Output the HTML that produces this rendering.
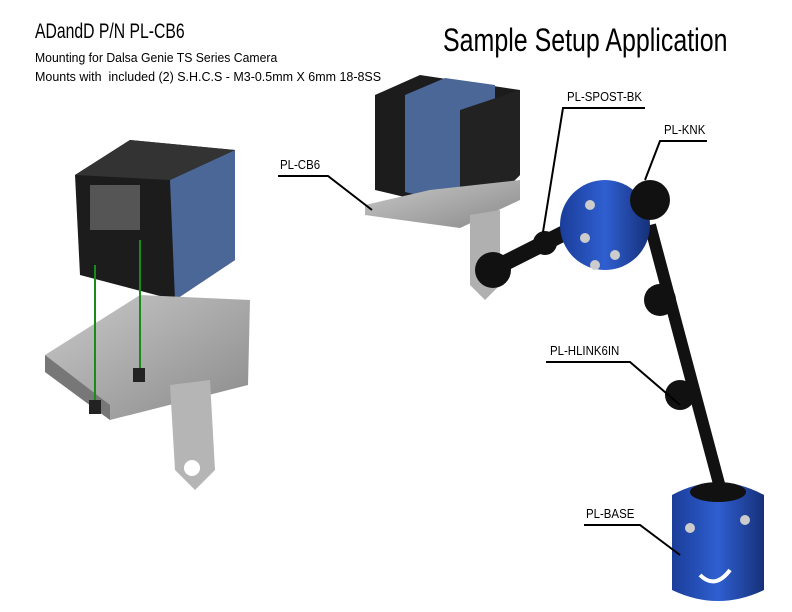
<!DOCTYPE html>
<html><head><meta charset="utf-8"><style>
html,body{margin:0;padding:0;background:#fff;}
body{width:792px;height:612px;position:relative;overflow:hidden;font-family:"Liberation Sans",sans-serif;}
.t{position:absolute;color:#000;white-space:nowrap;transform-origin:0 0;}
.l{font-size:13px;transform:scaleX(0.88);}
svg{position:absolute;left:0;top:0;}
</style></head><body>
<svg width="792" height="612" viewBox="0 0 792 612">
<defs>
<linearGradient id="plate" x1="0" y1="0" x2="1" y2="1"><stop offset="0" stop-color="#c9c9c9"/><stop offset="1" stop-color="#8a8a8a"/></linearGradient>
<linearGradient id="blue" x1="0" y1="0" x2="1" y2="0"><stop offset="0" stop-color="#1a3d9a"/><stop offset="0.5" stop-color="#2f5fd0"/><stop offset="1" stop-color="#16307a"/></linearGradient>
</defs>
<polygon points="75,175 130,140 235,150 235,260 175,300 80,275" fill="#1c1c1c"/>
<polygon points="170,180 235,150 235,260 175,300" fill="#4b6798"/>
<polygon points="75,175 130,140 235,150 170,180" fill="#333"/>
<rect x="90" y="185" width="50" height="45" fill="#555"/>
<polygon points="45,355 140,295 250,300 248,385 110,420 45,372" fill="url(#plate)"/>
<polygon points="45,355 110,405 110,420 45,372" fill="#777"/>
<polygon points="170,385 210,380 215,470 195,490 175,470" fill="#b5b5b5"/>
<circle cx="192" cy="468" r="8" fill="#fff"/>
<line x1="95" y1="265" x2="95" y2="405" stroke="#1a8a1a" stroke-width="2"/>
<line x1="140" y1="240" x2="140" y2="375" stroke="#1a8a1a" stroke-width="2"/>
<rect x="89" y="400" width="12" height="14" fill="#222"/>
<rect x="133" y="368" width="12" height="14" fill="#222"/>
<polygon points="375,95 420,75 520,90 520,175 480,215 375,190" fill="#1c1c1c"/>
<polygon points="405,95 445,78 495,85 495,180 460,205 405,192" fill="#4b6798"/>
<polygon points="460,110 520,90 520,175 480,215 460,205" fill="#222"/>
<polygon points="365,205 430,190 520,180 520,200 460,228 365,215" fill="url(#plate)"/>
<polygon points="470,215 500,210 500,285 485,300 470,285" fill="#b0b0b0"/>
<line x1="495" y1="268" x2="600" y2="215" stroke="#111" stroke-width="16" stroke-linecap="round"/>
<circle cx="493" cy="270" r="18" fill="#111"/>
<circle cx="545" cy="243" r="12" fill="#111"/>
<line x1="650" y1="225" x2="722" y2="495" stroke="#111" stroke-width="12"/>
<circle cx="660" cy="300" r="16" fill="#111"/>
<circle cx="680" cy="395" r="15" fill="#111"/>
<ellipse cx="605" cy="225" rx="45" ry="45" fill="url(#blue)"/>
<circle cx="650" cy="200" r="20" fill="#111"/>
<circle cx="590" cy="205" r="5" fill="#ccc"/><circle cx="585" cy="238" r="5" fill="#ccc"/><circle cx="595" cy="265" r="5" fill="#ccc"/><circle cx="615" cy="255" r="5" fill="#ccc"/>
<path d="M672,495 Q718,470 764,495 L764,590 Q718,612 672,590 Z" fill="url(#blue)"/>
<ellipse cx="718" cy="492" rx="28" ry="10" fill="#111"/>
<path d="M700,575 Q715,590 730,570" stroke="#fff" stroke-width="4" fill="none"/>
<circle cx="690" cy="528" r="5" fill="#ccc"/><circle cx="745" cy="520" r="5" fill="#ccc"/>
<g stroke="#000" stroke-width="2" fill="none">
<polyline points="278,176 328,176 372,210"/>
<polyline points="645,108 563,108 543,232"/>
<polyline points="707,141 660,141 645,180"/>
<polyline points="546,362 630,362 680,405"/>
<polyline points="584,525 640,525 680,555"/>
</g>
</svg>
<div class="t" style="left:35px;top:20px;font-size:21px;transform:scaleX(0.75);">ADandD P/N PL-CB6</div>
<div class="t" style="left:35px;top:50px;font-size:13px;transform:scaleX(0.94);">Mounting for Dalsa Genie TS Series Camera</div>
<div class="t" style="left:35px;top:69px;font-size:13px;transform:scaleX(0.96);">Mounts with &nbsp;included (2) S.H.C.S - M3-0.5mm X 6mm 18-8SS</div>
<div class="t" style="left:443px;top:22px;font-size:32px;transform:scaleX(0.78);">Sample Setup Application</div>
<div class="t l" style="left:280px;top:157px;">PL-CB6</div>
<div class="t l" style="left:567px;top:89px;">PL-SPOST-BK</div>
<div class="t l" style="left:664px;top:122px;">PL-KNK</div>
<div class="t l" style="left:550px;top:343px;">PL-HLINK6IN</div>
<div class="t l" style="left:586px;top:506px;">PL-BASE</div>
</body></html>
